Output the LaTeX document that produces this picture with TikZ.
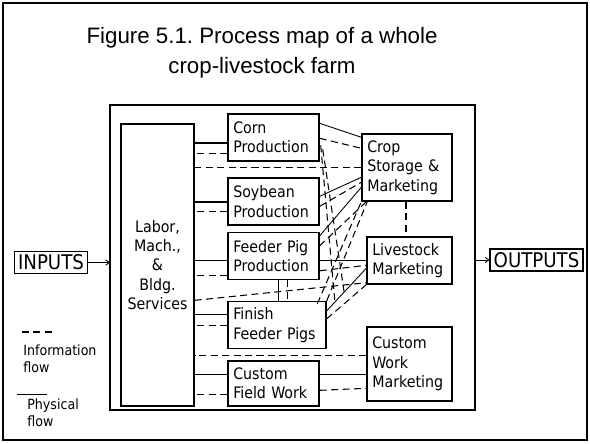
\documentclass[tikz,border=0pt]{standalone}
\usepackage{fontspec}
\setmainfont{DejaVu Sans Condensed}
\newfontfamily\titlefont{Liberation Sans}
\usetikzlibrary{calc,arrows.meta}
\frenchspacing

\begin{document}
\begin{tikzpicture}[x=0.02cm, y=-0.02cm,
  every node/.style={font=\fontsize{9}{11}\selectfont},
  ebox/.style={draw, line width=0.8pt, align=left, inner xsep=3pt, text width=#1, minimum height=0.94cm},
  mbox/.style={draw, line width=0.8pt, align=left, inner xsep=3pt, text width=#1},
  io/.style={draw, line width=0.8pt, inner sep=2pt, font=\fontsize{11.5}{13}\selectfont},
  phys/.style={line width=0.5pt},
  info/.style={line width=0.6pt, dash pattern=on 4pt off 2.5pt}]
\useasboundingbox (0,0) rectangle (590,443);
\draw[line width=1.2pt] (3,3) rectangle (587,440);
% title
\node[font=\titlefont\fontsize{12.7}{17}\selectfont, align=center] (title) at (262,53) {Figure 5.1. Process map of a whole\\crop-livestock farm};
% whole farm
\draw[line width=0.8pt] (110,105) rectangle (475,410);
\node[draw, line width=0.8pt, minimum width=1.46cm, minimum height=5.64cm, align=center] (labor) at (157.5,265) {Labor,\\Mach.,\\\&\\Bldg.\\Services};
% enterprises
\node[ebox=1.61cm] (corn) at (273.5,137.5) {Corn\\Production};
\node[ebox=1.61cm] (soy) at (273.5,201.5) {Soybean\\Production};
\node[ebox=1.61cm] (fpp) at (273.5,256) {Feeder Pig\\Production};
\node[ebox=1.75cm] (ffp) at (277,325) {Finish\\Feeder Pigs};
\node[ebox=1.61cm, minimum height=0.9cm] (cfw) at (273.5,383.5) {Custom\\Field Work};
% marketing
\node[mbox=1.59cm, minimum height=1.34cm] (cs) at (407,167.5) {Crop\\Storage \&\\Marketing};
\node[mbox=1.49cm, minimum height=0.94cm] (lm) at (409.5,260.5) {Livestock\\Marketing};
\node[mbox=1.49cm, minimum height=1.48cm] (cwm) at (409.5,364) {Custom\\Work\\Marketing};
% inputs and outputs
\node[io] (in) at (51,262.5) {INPUTS};
\node[io] (out) at (536.5,260) {OUTPUTS};
\draw[-{Straight Barb[length=2pt,width=3pt]}, line width=0.5pt] (in.east) -- (in.east -| 110,0);
\draw[-{Straight Barb[length=2pt,width=3pt]}, line width=0.5pt] (out.west -| 475,0) -- (out.west);
% labor to enterprises
\draw[phys, line width=1.2pt] ($(corn.north west)+(0,30)$) coordinate (a) -- (a -| labor.east);
\draw[info] ($(corn.north west)+(0,40)$) coordinate (a) -- (a -| labor.east);
\draw[phys, line width=1.2pt] ($(soy.north west)+(0,25)$) coordinate (a) -- (a -| labor.east);
\draw[info] ($(soy.north west)+(0,34)$) coordinate (a) -- (a -| labor.east);
\draw[phys] ($(fpp.north west)+(0,29)$) coordinate (a) -- (a -| labor.east);
\draw[info] ($(fpp.north west)+(0,44)$) coordinate (a) -- (a -| labor.east);
\draw[phys] ($(ffp.north west)+(0,14)$) coordinate (a) -- (a -| labor.east);
\draw[info] ($(ffp.north west)+(0,25)$) coordinate (a) -- (a -| labor.east);
\draw[phys] ($(cfw.north west)+(0,14)$) coordinate (a) -- (a -| labor.east);
\draw[info] ($(cfw.north west)+(0,34)$) coordinate (a) -- (a -| labor.east);
% labor to marketing
\draw[info] ($(cs.north west)+(0,34)$) coordinate (a) -- (a -| labor.east);
\draw[info] ($(labor.north east)+(0,177)$) -- ($(lm.south west)+(0,-2)$);
\draw[info] ($(cwm.north west)+(0,29)$) coordinate (a) -- (a -| labor.east);
% enterprises to crop storage
\draw[phys] ($(corn.north east)+(0,10)$) -- ($(cs.north west)+(0,4)$);
\draw[info] ($(corn.north east)+(0,25)$) -- ($(cs.north west)+(0,15)$);
\draw[phys] ($(soy.north east)+(0,19)$) -- ($(cs.north west)+(0,44)$);
\draw[info] ($(soy.north east)+(0,29)$) -- ($(cs.north west)+(0,49)$);
\draw[phys] ($(fpp.north east)+(0,4)$) -- ($(cs.north west)+(0,54)$);
\draw[info] ($(fpp.north east)+(0,14)$) -- ($(cs.south west)+(5,0)$);
\draw[info] ($(ffp.north west)+(90,3)$) -- (cs.south west);
\draw[info] (ffp.north east) -- ($(cs.south west)+(6,0)$);
% corn to finishing
\draw[info] ($(corn.north east)+(1,32)$) -- ($(ffp.north east)+(8,-1)$);
\draw[info] ($(corn.north east)+(3,36)$) -- ($(ffp.north east)+(18,-5)$);
% enterprises to livestock marketing
\draw[phys] ($(fpp.north east)+(0,29)$) coordinate (a) -- (a -| lm.west);
\draw[info] ($(fpp.north east)+(0,39)$) -- ($(lm.north west)+(0,29)$);
\draw[phys] ($(ffp.north east)+(0,10)$) -- ($(lm.north west)+(0,32)$);
\draw[info] ($(ffp.north east)+(0,18)$) -- (lm.south west);
\draw[info] (cs.south) ++(-1,0) coordinate (a) -- (a |- lm.north);
\draw[phys] ($(fpp.south west)+(51,0)$) coordinate (a) -- (a |- ffp.north);
\draw[info] ($(fpp.south west)+(60,0)$) coordinate (a) -- (a |- ffp.north);
% custom work
\draw[phys] ($(cfw.north east)+(0,14)$) coordinate (a) -- (a -| cwm.west);
\draw[info] ($(cfw.north east)+(0,30)$) -- ($(cwm.north west)+(0,62)$);
% legend
\draw[info] (22,332) coordinate (l1) -- (53,332);
\node[font=\fontsize{8}{10}\selectfont, align=left, anchor=north west, inner sep=0pt] (infol) at (23,344) {Information\\flow};
\draw[phys] (17,394) coordinate (l2) -- (47,394);
\node[font=\fontsize{8}{10}\selectfont, align=left, anchor=north west, inner sep=0pt] (physl) at (27,398) {Physical\\flow};
\end{tikzpicture}
\end{document}
